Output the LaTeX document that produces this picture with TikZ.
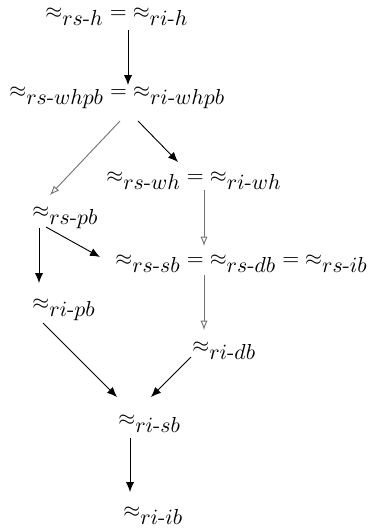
\documentclass[tikz,border=0pt]{standalone}
\usepackage{amsmath, amssymb}
\usepackage{tikz}
\usetikzlibrary{calc, arrows.meta}
\DeclareMathSizes{10}{10}{10}{7}
\tikzset{
  rel/.style={anchor=base west, inner sep=0pt},
  strict/.style={-{Latex[length=4.6pt,width=3.8pt]}, line width=0.42pt, black},
  weak/.style={-{Latex[open,length=4.3pt,width=3.3pt]}, line width=0.42pt, black!55},
}
\newcommand{\apx}[2]{{\approx}_{#1\text{-}#2}}

\begin{document}
\begin{tikzpicture}[x=0.46pt, y=-0.46pt]
    \useasboundingbox (0,0) rectangle (369,528);
    \node[rel] (h)    at (45,18)  {$\apx{rs}{h} = \apx{ri}{h}$};
    \node[rel] (whpb) at (9,97)  {$\apx{rs}{whpb} = \apx{ri}{whpb}$};
    \node[rel] (wh)   at (106,182) {$\apx{rs}{wh} = \apx{ri}{wh}$};
    \node[rel] (rspb) at (32,217) {$\apx{rs}{pb}$};
    \node[rel] (sb)   at (115,265) {$\apx{rs}{sb} = \apx{rs}{db} = \apx{rs}{ib}$};
    \node[rel] (ripb) at (32,309) {$\apx{ri}{pb}$};
    \node[rel] (ridb) at (192,352) {$\apx{ri}{db}$};
    \node[rel] (risb) at (118,425) {$\apx{ri}{sb}$};
    \node[rel] (riib) at (123,517) {$\apx{ri}{ib}$};
    % solid heads = strict inclusion, open heads = the other kind
    \draw[strict] ($(h.base west)+(83,12)$) -- ($(whpb.base west)+(119,-12)$);
    \draw[weak]   ($(whpb.base west)+(111,24)$) -- ($(rspb.base west)+(18,-22)$);
    \draw[strict] ($(whpb.base west)+(129,24)$) -- ($(wh.base west)+(72,-20)$);
    \draw[weak]   ($(wh.base west)+(98,8)$) -- ($(sb.base west)+(89,-19)$);
    \draw[strict] ($(rspb.base west)+(14,10)$) -- ($(sb.base west)+(-15,-8)$);
    \draw[strict] ($(rspb.base west)+(7,11)$) -- ($(ripb.base west)+(7,-26)$);
    \draw[weak]   ($(sb.base west)+(89,10)$) -- ($(ridb.base west)+(12,-22)$);
    \draw[strict] ($(ripb.base west)+(11,14)$) -- ($(risb.base west)+(-1,-28)$);
    \draw[strict] ($(ridb.base west)+(-1,5)$) -- ($(risb.base west)+(33,-28)$);
    \draw[strict] ($(risb.base west)+(12,13)$) -- ($(riib.base west)+(7,-25)$);
\end{tikzpicture}
\end{document}
